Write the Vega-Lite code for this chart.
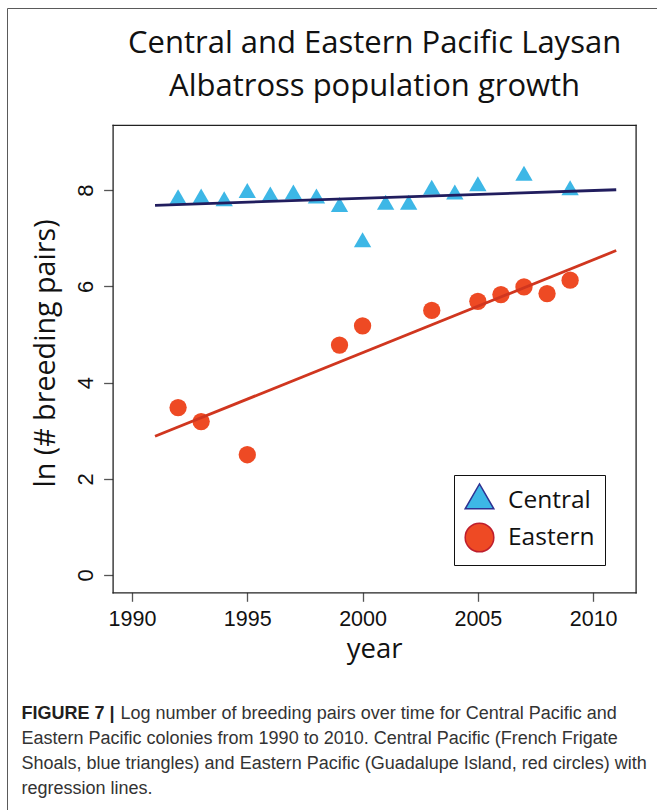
{
  "$schema": "https://vega.github.io/schema/vega-lite/v6.json",
  "autosize": {"type": "none"},
  "padding": {"left": 7, "top": 8, "right": -5, "bottom": -5},
  "width": 655,
  "height": 807,
  "background": "white",
  "data": {
    "values": [
      {"series": "Central", "year": 1992, "value": 7.81},
      {"series": "Central", "year": 1993, "value": 7.83},
      {"series": "Central", "year": 1994, "value": 7.77},
      {"series": "Central", "year": 1995, "value": 7.94},
      {"series": "Central", "year": 1996, "value": 7.87},
      {"series": "Central", "year": 1997, "value": 7.91},
      {"series": "Central", "year": 1998, "value": 7.83},
      {"series": "Central", "year": 1999, "value": 7.65},
      {"series": "Central", "year": 2000, "value": 6.92},
      {"series": "Central", "year": 2001, "value": 7.7},
      {"series": "Central", "year": 2002, "value": 7.7},
      {"series": "Central", "year": 2003, "value": 8.01},
      {"series": "Central", "year": 2004, "value": 7.91},
      {"series": "Central", "year": 2005, "value": 8.08},
      {"series": "Central", "year": 2007, "value": 8.3},
      {"series": "Central", "year": 2009, "value": 8.0},
      {"series": "Eastern", "year": 1992, "value": 3.48},
      {"series": "Eastern", "year": 1993, "value": 3.19},
      {"series": "Eastern", "year": 1995, "value": 2.5},
      {"series": "Eastern", "year": 1999, "value": 4.78},
      {"series": "Eastern", "year": 2000, "value": 5.18},
      {"series": "Eastern", "year": 2003, "value": 5.5},
      {"series": "Eastern", "year": 2005, "value": 5.69},
      {"series": "Eastern", "year": 2006, "value": 5.83},
      {"series": "Eastern", "year": 2007, "value": 5.99},
      {"series": "Eastern", "year": 2008, "value": 5.85},
      {"series": "Eastern", "year": 2009, "value": 6.13}
    ]
  },
  "resolve": {"axis": {"x": "independent", "y": "independent"}},
  "layer": [
    {
      "mark": {"type": "point", "filled": true, "opacity": 1, "size": 300, "strokeWidth": 0},
      "encoding": {
        "x": {
          "field": "year",
          "type": "quantitative",
          "scale": {"domain": [1989.16, 2011.84], "range": [105.6, 628.6], "nice": false, "zero": false},
          "axis": {
            "orient": "bottom",
            "offset": -222.7,
            "values": [1990, 1995, 2000, 2005, 2010],
            "format": "d",
            "title": "year",
            "titleFont": "Open Sans",
            "titleFontSize": 27.5,
            "titleFontWeight": "normal",
            "titleColor": "#111",
            "titleBaseline": "alphabetic",
            "titleY": 65,
            "labelFont": "Liberation Sans",
            "labelFontSize": 21.5,
            "labelColor": "#111",
            "labelPadding": 7,
            "labelFlush": false,
            "labelOverlap": false,
            "tickSize": 9,
            "tickColor": "#555",
            "tickWidth": 1.3,
            "domainColor": "#222",
            "domainWidth": 1.3,
            "domainCap": "square"
          }
        },
        "y": {
          "field": "value",
          "type": "quantitative",
          "scale": {"domain": [-0.36, 9.36], "range": [584.3, 116.8], "nice": false, "zero": false},
          "axis": {
            "orient": "left",
            "offset": -105.6,
            "values": [0, 2, 4, 6, 8],
            "title": "ln (# breeding pairs)",
            "titleFont": "Open Sans",
            "titleFontSize": 28.7,
            "titleFontWeight": "normal",
            "titleColor": "#111",
            "titleAngle": 270,
            "titleAlign": "center",
            "titleBaseline": "alphabetic",
            "titleX": -58.6,
            "titleY": 345,
            "labelAngle": 270,
            "labelAlign": "center",
            "labelBaseline": "alphabetic",
            "labelFont": "Liberation Sans",
            "labelFontSize": 22,
            "labelColor": "#111",
            "labelPadding": 11.6,
            "labelOverlap": false,
            "tickSize": 9,
            "tickColor": "#555",
            "tickWidth": 1.3,
            "domainColor": "#222",
            "domainWidth": 1.3,
            "domainCap": "square"
          }
        },
        "color": {
          "field": "series",
          "type": "nominal",
          "scale": {"domain": ["Central", "Eastern"], "range": ["#3db7e6", "#ee4a24"]},
          "legend": {
            "title": null,
            "orient": "none",
            "legendX": 447,
            "legendY": 467,
            "padding": 10,
            "strokeColor": "#111",
            "fillColor": "white",
            "symbolSize": 820,
            "symbolStrokeWidth": 1.5,
            "symbolOpacity": 1,
            "labelFont": "Open Sans",
            "labelFontSize": 24.5,
            "labelColor": "#111",
            "labelOffset": 13,
            "labelBaseline": "middle",
            "rowPadding": 8,
            "encode": {
              "symbols": {
                "update": {
                  "stroke": [
                    {"test": "datum.value === 'Central'", "value": "#2e3192"},
                    {"value": "#be1e2d"}
                  ]
                }
              }
            }
          }
        },
        "shape": {
          "field": "series",
          "type": "nominal",
          "scale": {"domain": ["Central", "Eastern"], "range": ["M-1,0.577L1,0.577L0,-1.155Z", "circle"]},
          "legend": {
            "title": null,
            "orient": "none",
            "legendX": 447,
            "legendY": 467,
            "padding": 10,
            "strokeColor": "#111",
            "fillColor": "white",
            "symbolSize": 820,
            "symbolStrokeWidth": 1.5,
            "symbolOpacity": 1,
            "labelFont": "Open Sans",
            "labelFontSize": 24.5,
            "labelColor": "#111",
            "labelOffset": 13,
            "labelBaseline": "middle",
            "rowPadding": 8,
            "encode": {
              "symbols": {
                "update": {
                  "stroke": [
                    {"test": "datum.value === 'Central'", "value": "#2e3192"},
                    {"value": "#be1e2d"}
                  ]
                }
              }
            }
          }
        }
      }
    },
    {
      "transform": [
        {"filter": "datum.series === 'Central'"},
        {"regression": "value", "on": "year", "extent": [1991, 2011]}
      ],
      "mark": {"type": "line", "color": "#211d5e", "strokeWidth": 2.8},
      "encoding": {
        "x": {
          "field": "year",
          "type": "quantitative",
          "scale": {"domain": [1989.16, 2011.84], "range": [105.6, 628.6], "nice": false, "zero": false},
          "axis": {
            "orient": "top",
            "offset": -116.8,
            "ticks": false,
            "labels": false,
            "domainColor": "#222",
            "domainWidth": 1.3,
            "domainCap": "square",
            "title": ["Central and Eastern Pacific Laysan", "Albatross population growth"],
            "titleFont": "Open Sans",
            "titleFontSize": 31,
            "titleFontWeight": "normal",
            "titleColor": "#111",
            "titleLineHeight": 43,
            "titleBaseline": "alphabetic",
            "titleY": -72.5
          }
        },
        "y": {
          "field": "value",
          "type": "quantitative",
          "scale": {"domain": [-0.36, 9.36], "range": [584.3, 116.8], "nice": false, "zero": false},
          "axis": {
            "orient": "right",
            "offset": -26.4,
            "ticks": false,
            "labels": false,
            "domainColor": "#222",
            "domainWidth": 1.3,
            "domainCap": "square",
            "title": "Log number of breeding pairs over time for Central Pacific and",
            "titleFont": "Liberation Sans",
            "titleFontSize": 18,
            "titleFontWeight": "normal",
            "titleColor": "#333",
            "titleAngle": 0,
            "titleAlign": "left",
            "titleBaseline": "alphabetic",
            "titleX": -515.6,
            "titleY": 710
          }
        }
      }
    },
    {
      "transform": [
        {"filter": "datum.series === 'Eastern'"},
        {"regression": "value", "on": "year", "extent": [1991, 2011]}
      ],
      "mark": {"type": "line", "color": "#d0361f", "strokeWidth": 2.8},
      "encoding": {
        "x": {
          "field": "year",
          "type": "quantitative",
          "scale": {"domain": [1989.16, 2011.84], "range": [105.6, 628.6], "nice": false, "zero": false},
          "axis": {
            "orient": "bottom",
            "offset": -222.7,
            "domain": false,
            "ticks": false,
            "labels": false,
            "title": [
              "Eastern Pacific colonies from 1990 to 2010. Central Pacific (French Frigate",
              "Shoals, blue triangles) and Eastern Pacific (Guadalupe Island, red circles) with",
              "regression lines."
            ],
            "titleFont": "Liberation Sans",
            "titleFontSize": 18,
            "titleFontWeight": "normal",
            "titleColor": "#333",
            "titleLineHeight": 25,
            "titleAlign": "left",
            "titleBaseline": "alphabetic",
            "titleX": 14,
            "titleY": 151
          }
        },
        "y": {
          "field": "value",
          "type": "quantitative",
          "scale": {"domain": [-0.36, 9.36], "range": [584.3, 116.8], "nice": false, "zero": false},
          "axis": {
            "orient": "left",
            "offset": -105.6,
            "domain": false,
            "ticks": false,
            "labels": false,
            "title": "FIGURE 7 |",
            "titleFont": "Liberation Sans",
            "titleFontSize": 18,
            "titleFontWeight": "bold",
            "titleColor": "#231f20",
            "titleAngle": 0,
            "titleAlign": "left",
            "titleBaseline": "alphabetic",
            "titleX": -91.6,
            "titleY": 710
          }
        }
      }
    }
  ],
  "config": {
    "view": {"stroke": "#5a5a5a", "strokeWidth": 1},
    "axis": {"grid": false}
  }
}
